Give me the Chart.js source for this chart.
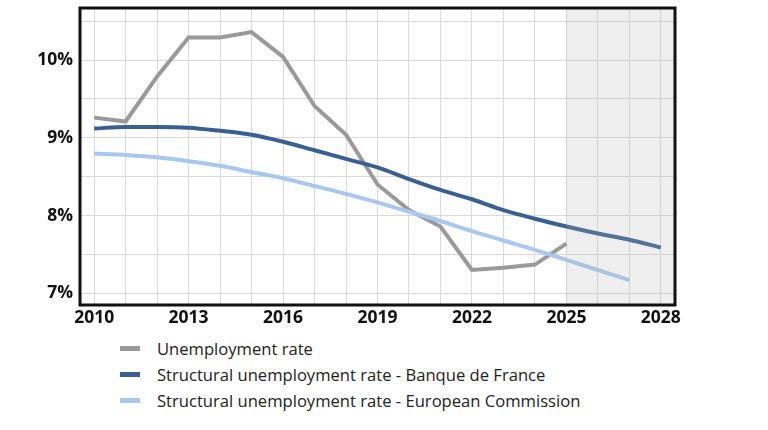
<!DOCTYPE html>
<html>
<head>
<meta charset="utf-8">
<script src="https://cdn.jsdelivr.net/npm/chart.js@4/dist/chart.umd.min.js"></script>
<style>
  body { margin: 0; background: #fff; font-family: "Open Sans", sans-serif; }
  #wrap { position: relative; width: 768px; height: 430px; }
  #legend { position: absolute; left: 120px; top: 336px; }
  .item { display: flex; align-items: center; height: 25.8px; font-size: 16.6px; color: #222; }
  .swatch { width: 20px; height: 5px; margin-right: 17px; }
</style>
</head>
<body>
<div id="wrap">
  <canvas id="chart" width="768" height="330"></canvas>
  <div id="legend"></div>
</div>
<script>
// データ
const years = [2010, 2011, 2012, 2013, 2014, 2015, 2016, 2017, 2018, 2019,
               2020, 2021, 2022, 2023, 2024, 2025, 2026, 2027, 2028];
const unemployment = [9.26, 9.21, 9.79, 10.29, 10.29, 10.36, 10.04, 9.41, 9.04, 8.40,
                      8.07, 7.86, 7.30, 7.33, 7.37, 7.64];
const structuralBdF = [9.12, 9.14, 9.14, 9.13, 9.09, 9.04, 8.95, 8.84, 8.73, 8.62,
                       8.47, 8.33, 8.21, 8.07, 7.96, 7.86, 7.77, 7.69, 7.59];
const structuralEC = [8.80, 8.78, 8.75, 8.70, 8.64, 8.56, 8.48, 8.38, 8.28, 8.17,
                      8.05, 7.93, 7.80, 7.68, 7.56, 7.43, 7.30, 7.17];
const forecastStart = 2025;
const seriesNames = [
    "Unemployment rate",
    "Structural unemployment rate - Banque de France",
    "Structural unemployment rate - European Commission",
];
const seriesColors = ["#9a9a9a", "#386094", "#a8c8ef"];

function points(values) {
    return values.map((v, i) => ({ x: years[i], y: v }));
}

// 予測期間の網掛けと枠線
const framePlugin = {
    id: "frame",
    afterDatasetsDraw(chart) {
        const { ctx, chartArea, scales } = chart;
        const x0 = scales.x.getPixelForValue(forecastStart);
        ctx.save();
        ctx.fillStyle = "rgba(180,180,180,0.22)";
        ctx.fillRect(x0, chartArea.top, chartArea.right - x0, chartArea.bottom - chartArea.top);
        ctx.restore();
    },
    afterDraw(chart) {
        const { ctx, chartArea } = chart;
        ctx.save();
        ctx.strokeStyle = "#111";
        ctx.lineWidth = 3;
        ctx.strokeRect(chartArea.left, chartArea.top,
                       chartArea.right - chartArea.left, chartArea.bottom - chartArea.top);
        ctx.restore();
    },
};

const tickFont = { family: "'Open Sans', sans-serif", size: 17.5, weight: "bold" };

new Chart(document.getElementById("chart").getContext("2d"), {
    type: "line",
    data: {
        datasets: [
            { label: seriesNames[0], data: points(unemployment), borderColor: seriesColors[0],
              borderWidth: 4, tension: 0, order: 3 },
            { label: seriesNames[1], data: points(structuralBdF), borderColor: seriesColors[1],
              borderWidth: 4, cubicInterpolationMode: "monotone", order: 2 },
            { label: seriesNames[2], data: points(structuralEC), borderColor: seriesColors[2],
              borderWidth: 4, cubicInterpolationMode: "monotone", order: 1 },
        ],
    },
    options: {
        responsive: false,
        animation: false,
        events: [],
        elements: { point: { radius: 0 } },
        layout: { padding: { top: 8, right: 93, left: 0, bottom: 0 } },
        plugins: { legend: { display: false }, tooltip: { enabled: false } },
        scales: {
            x: {
                type: "linear",
                min: 2009.55,
                max: 2028.45,
                afterFit: (s) => { s.height = 25; s.paddingLeft = 0; s.paddingRight = 0; },
                border: { display: false },
                grid: { color: "#dadada", lineWidth: 1, drawTicks: false },
                ticks: {
                    stepSize: 1,
                    includeBounds: false,
                    autoSkip: false,
                    maxRotation: 0,
                    padding: 3,
                    color: "#111",
                    font: tickFont,
                    callback: (v) => (v % 3 === 0 ? String(v) : ""),
                },
            },
            y: {
                min: 6.85,
                max: 10.67,
                afterFit: (s) => { s.width = 80; s.paddingTop = 0; s.paddingBottom = 0; },
                border: { display: false },
                grid: { color: "#dadada", lineWidth: 1, drawTicks: false },
                ticks: {
                    stepSize: 0.5,
                    includeBounds: false,
                    padding: 7,
                    color: "#111",
                    font: tickFont,
                    callback: (v) => (Number.isInteger(v) ? v + "%" : ""),
                },
            },
        },
    },
    plugins: [framePlugin],
});

// 凡例
const legend = document.getElementById("legend");
seriesNames.forEach((name, i) => {
    const row = document.createElement("div");
    row.className = "item";
    row.innerHTML = `<span class="swatch" style="background:${seriesColors[i]}"></span><span>${name}</span>`;
    legend.appendChild(row);
});
</script>
</body>
</html>
